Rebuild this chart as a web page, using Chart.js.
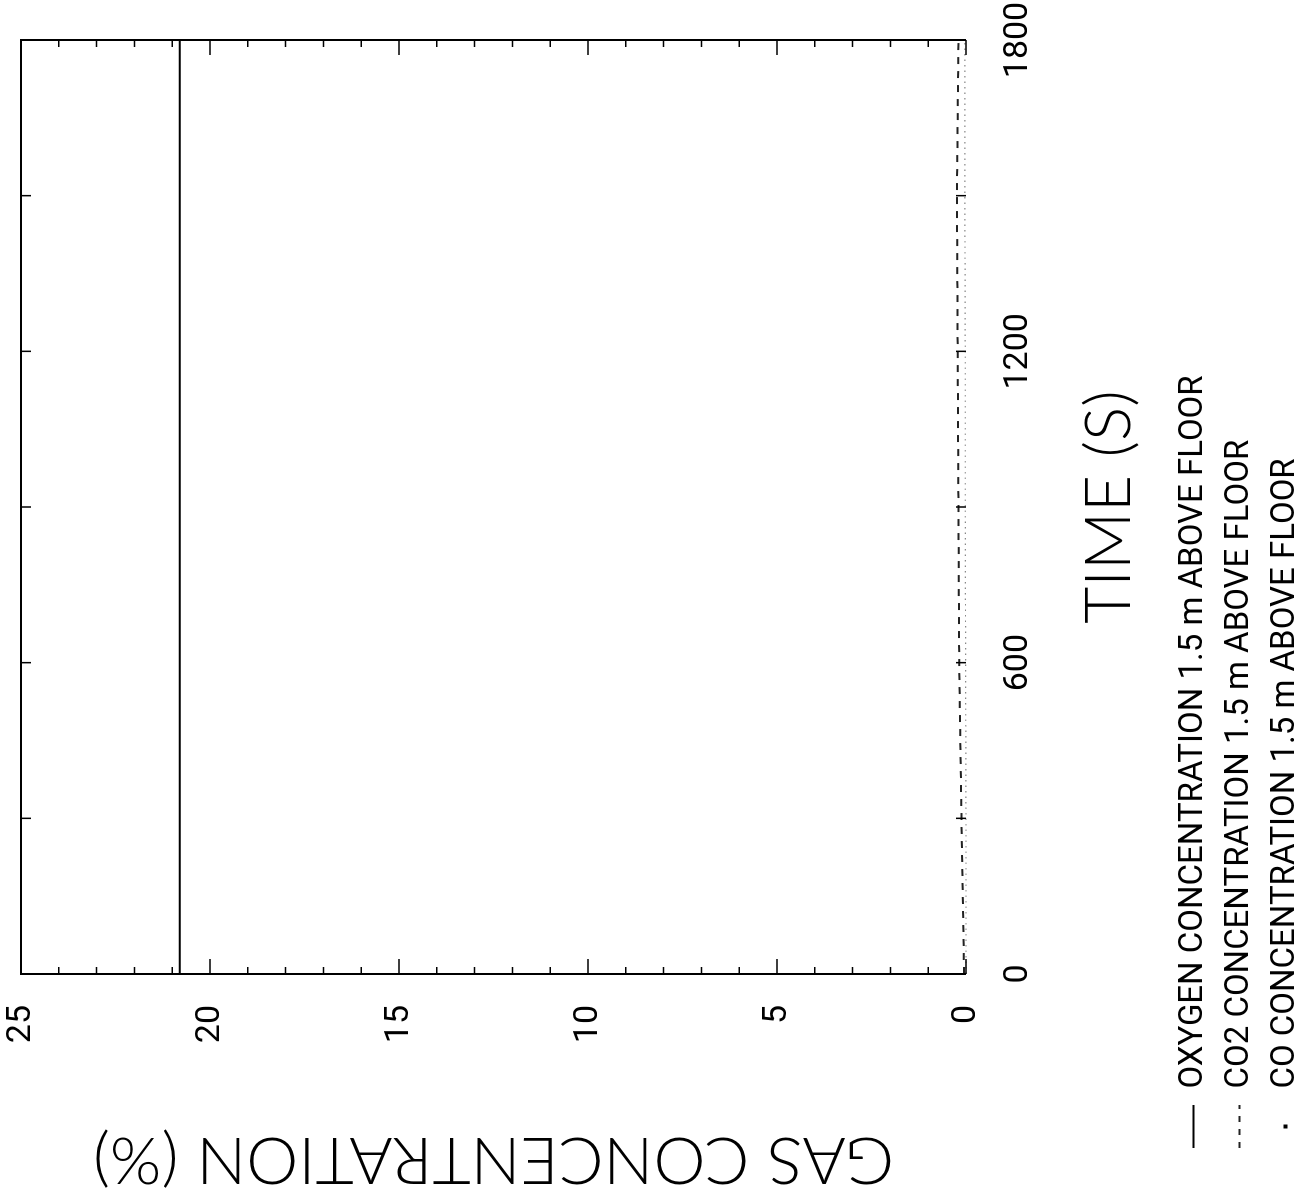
<!DOCTYPE html>
<html>
<head>
<meta charset="utf-8">
<title>Gas concentration 1.5 m above floor</title>
<script src="https://cdn.jsdelivr.net/npm/chart.js"></script>
<style>
  html, body { margin: 0; padding: 0; background: white; overflow: hidden; }
  body { width: 1316px; height: 1199px; position: relative; }
  /* chart is drawn upright, then turned a quarter turn like the scanned page */
  .turned { position: absolute; left: 0; top: 0; width: 1199px; height: 1316px;
            transform-origin: 0 0; transform: translate(0, 1199px) rotate(-90deg); }
</style>
</head>
<body>
<div class="turned"><canvas id="gasChart"></canvas></div>
<script>
// time in seconds, concentrations in %
const timeSeconds = [0, 300, 600, 900, 1200, 1500, 1800];
const oxygenPct   = [20.8, 20.8, 20.8, 20.8, 20.8, 20.8, 20.8];
const co2Pct      = [0.05, 0.12, 0.18, 0.2, 0.22, 0.24, 0.2];
const coPct       = [0, 0, 0.01, 0.02, 0.02, 0.03, 0.03];

const timeTicks = [0, 600, 1200, 1800];
const timeMarks = [0, 300, 600, 900, 1200, 1500, 1800];
const concTicks = [0, 5, 10, 15, 20, 25];
const concMarks = Array.from({length: 26}, (_, i) => i);

const seriesLabels = [
  'OXYGEN CONCENTRATION 1.5 m ABOVE FLOOR',
  'CO2 CONCENTRATION 1.5 m ABOVE FLOOR',
  'CO CONCENTRATION 1.5 m ABOVE FLOOR'
];

const plain = 'Roboto, "Liberation Sans", Arial, sans-serif';
const light = 'Lato, "Open Sans", sans-serif';

function points(values) {
  return timeSeconds.map((t, i) => ({x: t, y: values[i]}));
}

// box with inward tick marks, as on the original plot
const frameTicks = {
  id: 'frameTicks',
  afterDatasetsDraw(chart) {
    const {ctx, chartArea: a, scales: {x, y}} = chart;
    ctx.save();
    ctx.strokeStyle = '#000';
    ctx.lineWidth = 2;
    ctx.beginPath();
    ctx.moveTo(a.left, a.bottom);
    ctx.lineTo(a.left, a.top);
    ctx.lineTo(a.right, a.top);
    ctx.lineTo(a.right, a.bottom);
    ctx.stroke();
    ctx.lineWidth = 1.5;
    ctx.beginPath();
    concMarks.forEach(v => {
      const py = y.getPixelForValue(v);
      const len = v % 5 === 0 ? 15 : 7;
      ctx.moveTo(a.left, py); ctx.lineTo(a.left + len, py);
      ctx.moveTo(a.right, py); ctx.lineTo(a.right - len, py);
    });
    timeMarks.forEach(t => {
      const px = x.getPixelForValue(t);
      ctx.moveTo(px, a.top); ctx.lineTo(px, a.top + 10);
      ctx.moveTo(px, a.bottom); ctx.lineTo(px, a.bottom - 10);
    });
    ctx.stroke();
    ctx.restore();
  }
};

// legend sits a little in from the edge, the axis title doesn't
const legendIndent = {
  id: 'legendIndent',
  afterLayout(chart) { chart.legend.left = 38; }
};

new Chart(document.getElementById('gasChart'), {
  type: 'line',
  data: {
    datasets: [
      { label: seriesLabels[0], data: points(oxygenPct), borderColor: '#000', borderWidth: 2.2 },
      { label: seriesLabels[1], data: points(co2Pct), borderColor: '#222', borderWidth: 2, borderDash: [7, 7] },
      { label: seriesLabels[2], data: points(coPct), borderColor: '#888', borderWidth: 1.2, borderDash: [1.5, 4] }
    ]
  },
  options: {
    responsive: true,
    maintainAspectRatio: false,
    animation: false,
    events: [],
    layout: { padding: { left: 0, top: 21, right: 40, bottom: 4 } },
    elements: { point: { radius: 0 }, line: { tension: 0 } },
    datasets: { line: { clip: 4 } },
    scales: {
      x: {
        type: 'linear', min: 0, max: 1800,
        afterBuildTicks: s => { s.ticks = timeTicks.map(v => ({value: v})); },
        afterFit: s => { s.height = 198; s.paddingLeft = 0; s.paddingRight = 0; },
        grid: { display: false, drawTicks: false },
        border: { display: false },
        ticks: { color: '#000', font: { family: plain, size: 34 }, padding: 32, maxRotation: 0,
                 autoSkip: false, callback: v => String(v) },
        title: { display: true, text: 'TIME (S)', color: '#000',
                 font: { family: light, size: 64, weight: 300 }, padding: { top: 0, bottom: 16 } }
      },
      y: {
        type: 'linear', min: 0, max: 25,
        afterBuildTicks: s => { s.ticks = concTicks.map(v => ({value: v})); },
        afterFit: s => { s.width = 225; s.paddingTop = 0; s.paddingBottom = 0; },
        grid: { display: false, drawTicks: false },
        border: { display: false },
        ticks: { color: '#000', font: { family: plain, size: 34 }, padding: 31, autoSkip: false,
                 callback: v => String(v) },
        title: { display: true, text: 'GAS CONCENTRATION (%)', color: '#000',
                 font: { family: light, size: 66, weight: 300 }, padding: 0 }
      }
    },
    plugins: {
      tooltip: { enabled: false },
      legend: {
        position: 'bottom',
        align: 'start',
        labels: {
          color: '#000',
          font: { family: plain, size: 33 },
          usePointStyle: true,
          pointStyle: 'line',
          pointStyleWidth: 43,
          padding: 13,
          generateLabels(chart) {
            const items = Chart.defaults.plugins.legend.labels.generateLabels(chart);
            items[1].lineDash = [6, 7];
            items[1].lineWidth = 2;
            // CO key is a single dot in the middle of the key
            items[2].lineDash = [4, 1000];
            items[2].lineDashOffset = -19.5;
            items[2].lineWidth = 4;
            items[2].strokeStyle = '#000';
            return items;
          }
        }
      }
    }
  },
  plugins: [frameTicks, legendIndent]
});
</script>
</body>
</html>
